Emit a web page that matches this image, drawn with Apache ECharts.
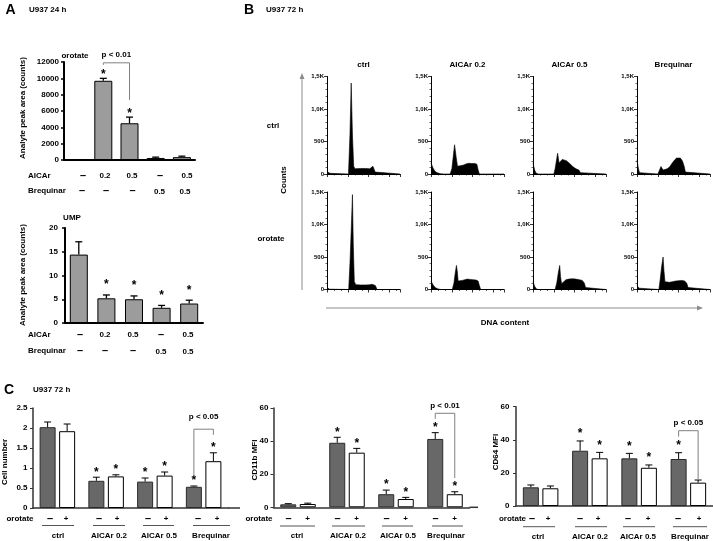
<!DOCTYPE html>
<html><head><meta charset="utf-8">
<script src="https://cdn.jsdelivr.net/npm/echarts@6/dist/echarts.min.js"></script>
<style>html,body{margin:0;padding:0;background:#fff}#c{width:713px;height:541px}</style>
</head><body><div id="c"></div>
<script>
// ---------- Panel A data ----------
const aCats = ['ctrl', 'AICAr 0.2', 'AICAr 0.5', 'Brequinar 0.5', 'AICAr 0.5 + Brequinar 0.5'];
const aicarRow = ['–', '0.2', '0.5', '–', '0.5'];
const brequinarRow = ['–', '–', '–', '0.5', '0.5'];
const orotateVals = [0, 9700, 4500, 250, 350];
const orotateErr = [0, 300, 750, 100, 120];
const orotateSig = [0, 1, 1, 0, 0];
const orotateBracket = [1, 2, 11900, 11650, 7350];
const umpVals = [14.4, 5.2, 5.0, 3.2, 4.1];
const umpErr = [2.7, 0.7, 0.7, 0.5, 0.7];
const umpSig = [0, 1, 1, 1, 1];

// ---------- Panel B data (DNA content histograms, counts) ----------
const histCols = ['ctrl', 'AICAr 0.2', 'AICAr 0.5', 'Brequinar'];
const histRows = ['ctrl', 'orotate'];
const histCtrlCtrl = [[0,40],[4,60],[8,40],[14,10],[20,0],[103,0],[110,600],[116,1400],[122,600],[128,120],[134,80],[160,85],[185,85],[205,80],[214,95],[220,120],[226,100],[231,30],[236,0],[350,0]];
const histCtrlA02 = [[0,170],[4,150],[10,90],[20,40],[30,18],[45,5],[60,0],[92,0],[100,80],[106,250],[113,450],[117,420],[121,250],[127,120],[135,110],[146,130],[158,140],[168,155],[180,165],[195,160],[210,162],[220,150],[226,60],[232,0],[350,0]];
const histCtrlA05 = [[0,170],[3,160],[8,60],[14,15],[25,0],[100,0],[106,80],[112,200],[118,320],[122,300],[125,170],[132,190],[140,225],[146,235],[160,205],[176,160],[192,110],[206,80],[220,60],[228,20],[234,0],[350,0]];
const histCtrlBrq = [[0,210],[3,200],[7,80],[12,20],[20,0],[100,0],[108,60],[115,115],[119,110],[125,60],[134,55],[145,80],[157,110],[168,165],[180,215],[190,245],[199,260],[208,245],[218,200],[226,120],[232,30],[238,0],[350,0]];
const histOroCtrl = [[0,30],[5,25],[12,5],[20,0],[104,0],[110,400],[116,900],[122,1460],[126,700],[131,120],[138,75],[160,70],[185,70],[205,72],[216,80],[225,90],[232,60],[240,0],[350,0]];
const histOroA02 = [[0,130],[4,120],[10,70],[20,30],[32,10],[45,0],[102,0],[110,100],[116,250],[122,370],[126,280],[130,130],[138,120],[150,140],[162,150],[174,160],[188,155],[202,150],[216,145],[226,130],[232,60],[238,0],[350,0]];
const histOroA05 = [[0,120],[3,110],[8,50],[15,10],[25,0],[106,0],[114,100],[121,250],[128,370],[132,200],[137,90],[146,120],[158,150],[172,160],[190,165],[205,160],[222,150],[236,140],[246,100],[252,30],[256,0],[350,0]];
const histOroBrq = [[0,60],[4,50],[10,20],[18,0],[105,0],[111,150],[118,350],[125,500],[129,300],[134,120],[140,100],[155,110],[170,120],[185,130],[200,135],[215,140],[228,130],[238,100],[245,30],[250,0],[350,0]];
const histYTicks = {0:'0', 500:'500', 1000:'1,0K', 1500:'1,5K'};

// ---------- Panel C data ----------
const cCats = ['ctrl', 'AICAr 0.2', 'AICAr 0.5', 'Brequinar'];
const cellDark = [2.02, 0.68, 0.66, 0.53];
const cellDarkErr = [0.13, 0.09, 0.09, 0.02];
const cellWhite = [1.92, 0.79, 0.81, 1.17];
const cellWhiteErr = [0.18, 0.04, 0.09, 0.21];
const cellSigDark = [0, 1, 1, 1];
const cellSigWhite = [0, 1, 1, 1];
const cellBracket = [3, 3, 1.97, 0.80, 1.83];
const cd11bDark = [1.8, 39.0, 7.9, 41.3];
const cd11bDarkErr = [0.4, 3.3, 2.5, 3.8];
const cd11bWhite = [2.0, 33.0, 5.0, 7.9];
const cd11bWhiteErr = [0.5, 2.6, 1.0, 1.5];
const cd11bSigDark = [0, 1, 1, 1];
const cd11bSigWhite = [0, 1, 1, 1];
const cd11bBracket = [3, 3, 56.8, 53.4, 17.7];
const cd64Dark = [11.3, 33.4, 28.8, 28.4];
const cd64DarkErr = [1.4, 5.9, 3.0, 3.8];
const cd64White = [10.7, 28.8, 23.1, 14.1];
const cd64WhiteErr = [1.4, 3.6, 1.7, 1.6];
const cd64SigDark = [0, 1, 1, 1];
const cd64SigWhite = [0, 1, 1, 0];
const cd64Bracket = [3, 3, 45.5, 41.9, 16.1];

// ---------- build ----------
const FF = '"Liberation Sans", Arial, sans-serif';
const grids = [], xAxes = [], yAxes = [], series = [], graphics = [];
const plainNum = function (v) { return String(v); };

function T(x, y, text, o) {
  o = o || {};
  let size = o.size || 8;
  if (text === '–') size = 11;
  return {type:'text', x:x, y:y, rotation:o.rot || 0, z:20,
    style:{text:text, fill:o.color || '#000', font:'bold ' + size + 'px ' + FF,
      align:o.align || 'center', verticalAlign:'middle'}};
}
function L(x1, y1, x2, y2, color, w) {
  return {type:'line', z:15, shape:{x1:x1, y1:y1, x2:x2, y2:y2}, style:{stroke:color || '#000', lineWidth:w || 1}};
}

function errSeries(gi, vals, errs, sig, dx, starGap, lw, cap, starSize) {
  return {
    type:'custom', xAxisIndex:gi, yAxisIndex:gi, z:5, silent:true,
    data: vals.map(function (v, i) { return [i, v, errs[i], sig[i]]; }),
    encode:{x:0, y:1},
    renderItem: function (params, api) {
      const i = api.value(0), v = api.value(1), e = api.value(2), s = api.value(3);
      const p0 = api.coord([i, v]), p1 = api.coord([i, v + e]);
      const x = p0[0] + dx;
      const ch = [];
      if (e > 0) {
        ch.push({type:'line', shape:{x1:x, y1:p0[1], x2:x, y2:p1[1]}, style:{stroke:'#000', lineWidth:lw}});
        ch.push({type:'line', shape:{x1:x - cap / 2, y1:p1[1], x2:x + cap / 2, y2:p1[1]}, style:{stroke:'#000', lineWidth:lw}});
      }
      if (s) {
        ch.push({type:'text', style:{text:'*', x:x, y:p1[1] - starGap + starSize * 0.25,
          align:'center', verticalAlign:'middle', font:'bold ' + starSize + 'px ' + FF, fill:'#000'}});
      }
      return {type:'group', children:ch};
    }
  };
}

function bracketSeries(gi, br, dxL, dxR, label, textGap) {
  return {
    type:'custom', xAxisIndex:gi, yAxisIndex:gi, z:6, silent:true,
    data:[br], encode:{x:0, y:2},
    renderItem: function (params, api) {
      const cl = api.value(0), cr = api.value(1), yt = api.value(2), yl = api.value(3), yr = api.value(4);
      const a = api.coord([cl, yt]), b = api.coord([cr, yt]);
      const al = api.coord([cl, yl]), brr = api.coord([cr, yr]);
      const xl = a[0] + dxL, xr = b[0] + dxR;
      const st = {stroke:'#808080', lineWidth:1};
      return {type:'group', children:[
        {type:'line', shape:{x1:xl, y1:a[1], x2:xr, y2:a[1]}, style:st},
        {type:'line', shape:{x1:xl, y1:a[1], x2:xl, y2:al[1]}, style:st},
        {type:'line', shape:{x1:xr, y1:a[1], x2:xr, y2:brr[1]}, style:st},
        {type:'text', style:{text:label, x:(xl + xr) / 2, y:a[1] - textGap, align:'center', verticalAlign:'middle',
          font:'bold 8px ' + FF, fill:'#000'}}
      ]};
    }
  };
}

// ---- Panel A ----
function panelA(g, max, interval, vals, errs, sig, starGap, labelMargin) {
  const gi = grids.length;
  grids.push(g);
  xAxes.push({gridIndex:gi, type:'category', data:aCats, axisLine:{lineStyle:{color:'#000', width:2}},
    axisTick:{show:false}, axisLabel:{show:false}});
  yAxes.push({gridIndex:gi, type:'value', min:0, max:max, interval:interval,
    axisLine:{show:true, lineStyle:{color:'#000', width:2}},
    axisTick:{show:true, length:3, lineStyle:{color:'#000', width:1.5}},
    splitLine:{show:false},
    axisLabel:{fontSize:8, fontWeight:'bold', color:'#000', margin:labelMargin, fontFamily:FF, formatter:plainNum}});
  series.push({type:'bar', xAxisIndex:gi, yAxisIndex:gi, data:vals, barWidth:18, z:3,
    itemStyle:{color:'#9c9c9c', borderColor:'#000', borderWidth:1}});
  series.push(errSeries(gi, vals, errs, sig, 0, starGap, 1.3, 7, 12));
  return gi;
}
const gA1 = panelA({left:64, top:62, width:131, height:98}, 12000, 2000, orotateVals, orotateErr, orotateSig, 6.5, 5);
series.push(bracketSeries(gA1, orotateBracket, 0, 0, 'p < 0.01', 8.5));
const gA2 = panelA({left:65, top:228, width:138, height:95}, 20, 5, umpVals, umpErr, umpSig, 13, 7);

// ---- Panel B ----
const histData = [[histCtrlCtrl, histCtrlA02, histCtrlA05, histCtrlBrq], [histOroCtrl, histOroA02, histOroA05, histOroBrq]];
const colX = [327, 431, 533, 637];
const rowZero = [174, 289.5];
for (let r = 0; r < 2; r++) {
  for (let c = 0; c < 4; c++) {
    const gi = grids.length;
    grids.push({left:colX[c], top:rowZero[r] - 97.5, width:73, height:97.5});
    xAxes.push({gridIndex:gi, type:'value', min:0, max:350, interval:100,
      axisLine:{show:true, onZero:false, lineStyle:{color:'#000', width:1}},
      axisTick:{show:true, length:3, lineStyle:{color:'#000', width:0.8}},
      minorTick:{show:true, splitNumber:3, length:1.5, lineStyle:{color:'#000', width:0.6}},
      axisLabel:{show:false}, splitLine:{show:false}});
    yAxes.push({gridIndex:gi, type:'value', min:0, max:1500, interval:500,
      axisLine:{show:true, lineStyle:{color:'#000', width:1}},
      axisTick:{show:true, length:3, lineStyle:{color:'#000', width:0.8}},
      minorTick:{show:true, splitNumber:5, length:1.5, lineStyle:{color:'#000', width:0.6}},
      splitLine:{show:false},
      axisLabel:{fontSize:6, fontWeight:'bold', color:'#000', margin:3, fontFamily:FF,
        formatter:function (v) { return histYTicks[v] !== undefined ? histYTicks[v] : ''; }}});
    series.push({type:'line', xAxisIndex:gi, yAxisIndex:gi, data:histData[r][c], showSymbol:false, symbol:'none',
      lineStyle:{color:'#000', width:0.6}, areaStyle:{color:'#000', opacity:1}, z:2});
  }
}

// ---- Panel C ----
function panelC(g, max, interval, dark, darkErr, white, whiteErr, sigD, sigW, starGap, labelMargin, br, plabel, pgap) {
  const gi = grids.length;
  grids.push(g);
  xAxes.push({gridIndex:gi, type:'category', data:cCats, axisLine:{lineStyle:{color:'#333', width:1.5}},
    axisTick:{show:false}, axisLabel:{show:false}});
  yAxes.push({gridIndex:gi, type:'value', min:0, max:max, interval:interval,
    axisLine:{show:true, lineStyle:{color:'#333', width:1.5}},
    axisTick:{show:true, length:3, lineStyle:{color:'#333', width:1}},
    splitLine:{show:false},
    axisLabel:{fontSize:8, fontWeight:'bold', color:'#000', margin:labelMargin, fontFamily:FF, formatter:plainNum}});
  series.push({type:'bar', xAxisIndex:gi, yAxisIndex:gi, data:dark, barWidth:16, barGap:'22%', z:3,
    itemStyle:{color:'#686868', borderColor:'#2a2a2a', borderWidth:1}});
  series.push({type:'bar', xAxisIndex:gi, yAxisIndex:gi, data:white, barWidth:16, barGap:'22%', z:3,
    itemStyle:{color:'#ffffff', borderColor:'#000', borderWidth:1}});
  series.push(errSeries(gi, dark, darkErr, sigD, -9.76, starGap, 1, 7, 12));
  series.push(errSeries(gi, white, whiteErr, sigW, 9.76, starGap, 1, 7, 12));
  series.push(bracketSeries(gi, br, -9.76, 9.76, plabel, pgap));
  return gi;
}
panelC({left:33, top:408, width:195, height:100}, 2.5, 0.5, cellDark, cellDarkErr, cellWhite, cellWhiteErr,
  cellSigDark, cellSigWhite, 8, 5.5, cellBracket, 'p < 0.05', 12);
panelC({left:273.5, top:408, width:196, height:99.3}, 60, 20, cd11bDark, cd11bDarkErr, cd11bWhite, cd11bWhiteErr,
  cd11bSigDark, cd11bSigWhite, 8, 5, cd11bBracket, 'p < 0.01', 7.5);
panelC({left:516, top:406.7, width:197, height:99.3}, 60, 20, cd64Dark, cd64DarkErr, cd64White, cd64WhiteErr,
  cd64SigDark, cd64SigWhite, 10, 6.5, cd64Bracket, 'p < 0.05', 8);

// ---------- text / decorations ----------
// Panel A
graphics.push(T(10.5, 10, 'A', {size:14}));
graphics.push(T(29, 10, 'U937 24 h', {align:'left'}));
graphics.push(T(75, 56, 'orotate'));
graphics.push(T(72, 218, 'UMP'));
graphics.push(T(23, 108, 'Analyte peak area (counts)', {rot:Math.PI / 2}));
graphics.push(T(23, 275, 'Analyte peak area (counts)', {rot:Math.PI / 2}));
const aTopAx = [83, 105, 132, 160, 187], aTopBx = [82, 106, 132.5, 159.5, 185];
const aBotX = [80, 105, 133, 161, 188];
graphics.push(T(28, 176, 'AICAr', {align:'left'}));
graphics.push(T(28, 191, 'Brequinar', {align:'left'}));
graphics.push(T(28, 335, 'AICAr', {align:'left'}));
graphics.push(T(28, 351, 'Brequinar', {align:'left'}));
for (let i = 0; i < 5; i++) {
  graphics.push(T(aTopAx[i], 176, aicarRow[i]));
  graphics.push(T(aTopBx[i], i >= 3 ? 191.5 : 190.5, brequinarRow[i]));
  graphics.push(T(aBotX[i], 335, aicarRow[i]));
  graphics.push(T(aBotX[i], i >= 3 ? 352 : 350.5, brequinarRow[i]));
}
// Panel B
graphics.push(T(249, 10, 'B', {size:14}));
graphics.push(T(266, 10, 'U937 72 h', {align:'left'}));
for (let c = 0; c < 4; c++) graphics.push(T(colX[c] + 36.5, 65, histCols[c]));
graphics.push(T(273, 126, histRows[0]));
graphics.push(T(271, 239, histRows[1]));
graphics.push(T(284, 180, 'Counts', {rot:Math.PI / 2}));
graphics.push(T(505, 323, 'DNA content'));
graphics.push(L(302, 290, 302, 78, '#8c8c8c', 1));
graphics.push({type:'polygon', z:15, shape:{points:[[299.5, 79], [304.5, 79], [302, 73]]}, style:{fill:'#8c8c8c'}});
graphics.push(L(326, 308, 698, 308, '#8c8c8c', 1));
graphics.push({type:'polygon', z:15, shape:{points:[[697, 305.5], [697, 310.5], [703, 308]]}, style:{fill:'#8c8c8c'}});
// Panel C
graphics.push(T(9, 390, 'C', {size:14}));
graphics.push(T(33, 390, 'U937 72 h', {align:'left'}));
graphics.push(T(5, 462, 'Cell number', {rot:Math.PI / 2}));
graphics.push(T(254.5, 460, 'CD11b MFI', {rot:Math.PI / 2}));
graphics.push(T(496, 452, 'CD64 MFI', {rot:Math.PI / 2}));
graphics.push(L(228, 508, 240, 508, '#333', 1.5));
graphics.push(L(469.5, 507.3, 478, 507.3, '#333', 1.5));
const cLayouts = [
  {orot:[20, 518.5], pm:[[50, 66], [99, 117], [148, 166], [198, 217]], pmY:518.5,
   lines:[[42, 74], [93, 125], [143, 174], [193, 230]], lineY:525.5, labX:[58, 109, 159, 211], labY:535.5},
  {orot:[259, 518.5], pm:[[288.5, 307.5], [337.5, 356.5], [386.5, 405.5], [435.5, 454.5]], pmY:518.5,
   lines:[[280, 315], [332, 365], [382, 413], [432, 463]], lineY:526, labX:[297, 348, 398, 446], labY:536},
  {orot:[512.5, 519], pm:[[532, 548], [580, 598], [628, 648], [678, 699]], pmY:519,
   lines:[[523, 555], [575, 607], [623, 655], [673, 707]], lineY:526.7, labX:[538, 590, 638, 690], labY:536.7}
];
cLayouts.forEach(function (lay) {
  graphics.push(T(lay.orot[0], lay.orot[1], 'orotate'));
  for (let i = 0; i < 4; i++) {
    graphics.push(T(lay.pm[i][0], lay.pmY, '–'));
    graphics.push(T(lay.pm[i][1], lay.pmY, '+'));
    graphics.push(L(lay.lines[i][0], lay.lineY, lay.lines[i][1], lay.lineY, '#555', 1));
    graphics.push(T(lay.labX[i], lay.labY, cCats[i]));
  }
});

const chart = echarts.init(document.getElementById('c'), null, {renderer:'canvas', width:713, height:541});
chart.setOption({
  animation:false,
  backgroundColor:'#fff',
  textStyle:{fontFamily:FF},
  grid:grids, xAxis:xAxes, yAxis:yAxes, series:series, graphic:graphics
});
</script></body></html>
